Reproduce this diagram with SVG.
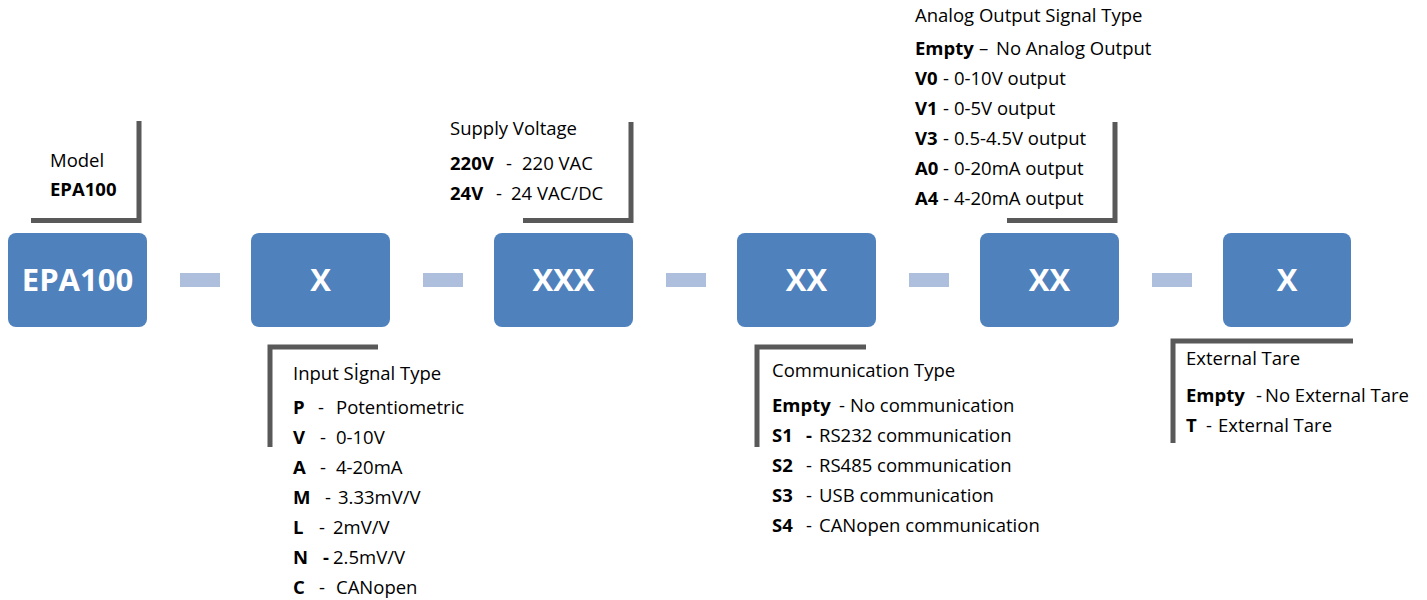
<svg xmlns="http://www.w3.org/2000/svg" width="1427" height="600" viewBox="0 0 1427 600">
<style>
.box{fill:#4F81BD}
.dash{fill:#ADBFDC}
.bt{font-family:"Open Sans","Liberation Sans",sans-serif;font-weight:700;font-size:31px;fill:#fff;text-anchor:middle}
.br{fill:none;stroke:#595959;stroke-width:5}
.t{font-family:"Open Sans","Liberation Sans",sans-serif;font-size:18.5px;fill:#000}
.b{font-weight:700}
</style>
<rect width="1427" height="600" fill="#fff"/>
<g id="connectors">
<rect class="dash" x="180" y="273" width="40" height="14"/>
<rect class="dash" x="423" y="273" width="40" height="14"/>
<rect class="dash" x="666" y="273" width="40" height="14"/>
<rect class="dash" x="909" y="273" width="40" height="14"/>
<rect class="dash" x="1152" y="273" width="40" height="14"/>
<path class="br" d="M31 220.5H139V121"/>
<path class="br" d="M378 347H270V447"/>
<path class="br" d="M523 220.5H631V122"/>
<path class="br" d="M866 347H757V447"/>
<path class="br" d="M1007 220.5H1115V122"/>
<path class="br" d="M1353 341H1173V443"/>
</g>
<g id="node-model">
<rect class="box" x="8" y="233" width="139" height="94" rx="8"/>
<text class="bt" x="77.5" y="291">EPA100</text>
<text class="t" x="50" y="167">Model</text>
<text class="t b" x="50" y="196">EPA100</text>
</g>
<g id="node-input">
<rect class="box" x="251" y="233" width="139" height="94" rx="8"/>
<text class="bt" x="320.5" y="291">X</text>
<text class="t" x="293" y="380">Input Sİgnal Type</text>
<text class="t" y="414"><tspan class="b" x="293">P</tspan><tspan x="318">-</tspan><tspan x="336">Potentiometric</tspan></text>
<text class="t" y="444"><tspan class="b" x="293">V</tspan><tspan x="320">-</tspan><tspan x="336">0-10V</tspan></text>
<text class="t" y="474"><tspan class="b" x="293">A</tspan><tspan x="320">-</tspan><tspan x="336">4-20mA</tspan></text>
<text class="t" y="504"><tspan class="b" x="293">M</tspan><tspan x="325">-</tspan><tspan x="338">3.33mV/V</tspan></text>
<text class="t" y="534"><tspan class="b" x="293">L</tspan><tspan x="319">-</tspan><tspan x="333">2mV/V</tspan></text>
<text class="t" y="564"><tspan class="b" x="293">N</tspan><tspan class="b" x="323">-</tspan><tspan x="333">2.5mV/V</tspan></text>
<text class="t" y="594"><tspan class="b" x="293">C</tspan><tspan x="319">-</tspan><tspan x="336">CANopen</tspan></text>
</g>
<g id="node-supply">
<rect class="box" x="494" y="233" width="139" height="94" rx="8"/>
<text class="bt" x="563.5" y="291">XXX</text>
<text class="t" x="450" y="135">Supply Voltage</text>
<text class="t" y="170"><tspan class="b" x="450">220V</tspan><tspan x="506">-</tspan><tspan x="522">220 VAC</tspan></text>
<text class="t" y="200"><tspan class="b" x="450">24V</tspan><tspan x="496">-</tspan><tspan x="511">24 VAC/DC</tspan></text>
</g>
<g id="node-comm">
<rect class="box" x="737" y="233" width="139" height="94" rx="8"/>
<text class="bt" x="806.5" y="291">XX</text>
<text class="t" x="772" y="377">Communication Type</text>
<text class="t" y="412"><tspan class="b" x="772">Empty</tspan><tspan x="839">-</tspan><tspan x="850">No communication</tspan></text>
<text class="t" y="442"><tspan class="b" x="772">S1</tspan><tspan class="b" x="806">-</tspan><tspan x="819">RS232 communication</tspan></text>
<text class="t" y="472"><tspan class="b" x="772">S2</tspan><tspan x="806">-</tspan><tspan x="819">RS485 communication</tspan></text>
<text class="t" y="502"><tspan class="b" x="772">S3</tspan><tspan x="806">-</tspan><tspan x="819">USB communication</tspan></text>
<text class="t" y="532"><tspan class="b" x="772">S4</tspan><tspan x="806">-</tspan><tspan x="819">CANopen communication</tspan></text>
</g>
<g id="node-analog">
<rect class="box" x="980" y="233" width="139" height="94" rx="8"/>
<text class="bt" x="1049.5" y="291">XX</text>
<text class="t" x="915" y="22">Analog Output Signal Type</text>
<text class="t" y="55"><tspan class="b" x="915">Empty</tspan><tspan x="979">–</tspan><tspan x="996">No Analog Output</tspan></text>
<text class="t" y="85"><tspan class="b" x="915">V0</tspan><tspan x="943">-</tspan><tspan x="954">0-10V output</tspan></text>
<text class="t" y="115"><tspan class="b" x="915">V1</tspan><tspan x="943">-</tspan><tspan x="954">0-5V output</tspan></text>
<text class="t" y="145"><tspan class="b" x="915">V3</tspan><tspan x="943">-</tspan><tspan x="954">0.5-4.5V output</tspan></text>
<text class="t" y="175"><tspan class="b" x="915">A0</tspan><tspan x="943">-</tspan><tspan x="954">0-20mA output</tspan></text>
<text class="t" y="205"><tspan class="b" x="915">A4</tspan><tspan x="943">-</tspan><tspan x="954">4-20mA output</tspan></text>
</g>
<g id="node-tare">
<rect class="box" x="1223" y="233" width="128" height="94" rx="8"/>
<text class="bt" x="1287" y="291">X</text>
<text class="t" x="1186" y="365">External Tare</text>
<text class="t" y="402"><tspan class="b" x="1186">Empty</tspan><tspan x="1256">-</tspan><tspan x="1265">No External Tare</tspan></text>
<text class="t" y="432"><tspan class="b" x="1186">T</tspan><tspan x="1206">-</tspan><tspan x="1218">External Tare</tspan></text>
</g>
</svg>
